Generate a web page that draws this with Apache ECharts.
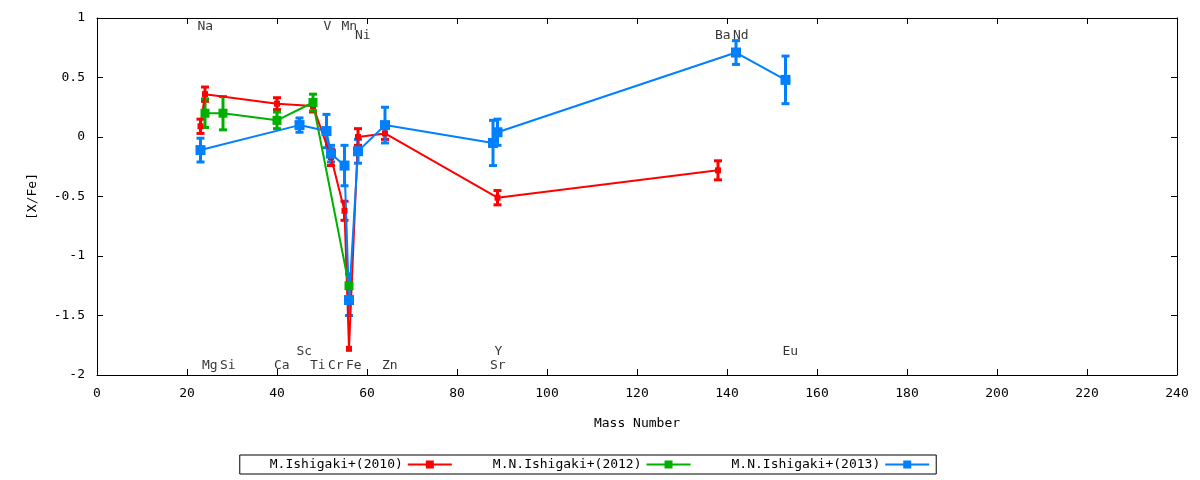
<!DOCTYPE html>
<html lang="en">
<head>
<meta charset="UTF-8">
<title>[X/Fe]</title>
<style>
  * { margin: 0; padding: 0; }
  html, body, #chart { width: 1200px; height: 480px; overflow: hidden; background: #fff; }
</style>
</head>
<body>
<div id="chart"></div>
<script src="https://cdn.jsdelivr.net/npm/echarts@6/dist/echarts.min.js"></script>
<script>
  // M.Ishigaki+(2010)
  let massA = [23, 24, 40, 48, 52, 55, 56, 58, 64, 89, 138];
  let valA  = [0.09, 0.36, 0.28, 0.26, -0.17, -0.62, -1.78, 0.0, 0.03, -0.51, -0.28];
  let errA  = [0.06, 0.06, 0.05, 0.05, 0.07, 0.08, 0.0, 0.07, 0.05, 0.06, 0.08];
  // M.N.Ishigaki+(2012)
  let massB = [24, 28, 40, 48, 56];
  let valB  = [0.2, 0.2, 0.14, 0.29, -1.25];
  let errB  = [0.12, 0.14, 0.07, 0.07, 0.1];
  // M.N.Ishigaki+(2013)
  let massC = [23, 45, 51, 52, 55, 56, 58, 64, 88, 89, 142, 153];
  let valC  = [-0.11, 0.1, 0.05, -0.14, -0.24, -1.37, -0.12, 0.1, -0.05, 0.04, 0.71, 0.48];
  let errC  = [0.1, 0.06, 0.14, 0.07, 0.17, 0.13, 0.1, 0.15, 0.19, 0.11, 0.1, 0.2];

  // element labels: name, mass, y position
  let labNames = ['Na', 'V', 'Mn', 'Ni', 'Ba', 'Nd', 'Mg', 'Si', 'Ca', 'Sc', 'Ti', 'Cr', 'Fe', 'Zn', 'Y', 'Sr', 'Eu'];
  let labMass  = [23, 51, 55, 58, 138, 142, 24, 28, 40, 45, 48, 52, 56, 64, 89, 88, 153];
  let labY     = [0.93, 0.93, 0.93, 0.85, 0.85, 0.85, -1.92, -1.92, -1.92, -1.8, -1.92, -1.92, -1.92, -1.92, -1.8, -1.92, -1.8];

  let font = 'DejaVu Sans Mono';
  let colors = ['#ff0000', '#00b000', '#0080ff'];
  let names = ['M.Ishigaki+(2010)', 'M.N.Ishigaki+(2012)', 'M.N.Ishigaki+(2013)'];

  function pairs(m, v) { return m.map((x, i) => [x, v[i]]); }

  function errSeries(m, v, e, color, name) {
    return {
      name: name + ' err',
      type: 'custom',
      z: 3,
      color: color,
      data: m.map((x, i) => [x, v[i] - e[i], v[i] + e[i]]),
      renderItem: function(params, api) {
        let lo = api.coord([api.value(0), api.value(1)]);
        let hi = api.coord([api.value(0), api.value(2)]);
        if (Math.abs(lo[1] - hi[1]) < 1) return;
        let style = { stroke: color, lineWidth: 3 };
        return {
          type: 'group',
          children: [
            { type: 'line', shape: { x1: lo[0], y1: lo[1], x2: hi[0], y2: hi[1] }, style: style },
            { type: 'line', shape: { x1: lo[0] - 4, y1: lo[1], x2: lo[0] + 4, y2: lo[1] }, style: style },
            { type: 'line', shape: { x1: hi[0] - 4, y1: hi[1], x2: hi[0] + 4, y2: hi[1] }, style: style }
          ]
        };
      }
    };
  }

  function lineSeries(m, v, color, name, size) {
    return {
      name: name,
      type: 'line',
      z: 4,
      color: color,
      data: pairs(m, v),
      symbol: 'rect',
      symbolSize: size,
      itemStyle: { color: color },
      lineStyle: { color: color, width: 2 }
    };
  }

  let axisBase = {
    axisLine: { onZero: false, lineStyle: { color: '#000' } },
    axisTick: { inside: true, length: 6, lineStyle: { color: '#000' } },
    splitLine: { show: false }
  };

  let chart = echarts.init(document.getElementById('chart'));
  chart.setOption({
    animation: false,
    textStyle: { fontFamily: font },
    grid: { left: 97, right: 23, top: 18, bottom: 105 },
    xAxis: [Object.assign({
      type: 'value', min: 0, max: 240, interval: 20,
      name: 'Mass Number', nameLocation: 'middle', nameGap: 42,
      nameTextStyle: { fontFamily: font, fontSize: 13, color: '#000' },
      axisLabel: { fontFamily: font, fontSize: 13, color: '#000', margin: 12 }
    }, axisBase), Object.assign({
      type: 'value', min: 0, max: 240, interval: 20, position: 'top',
      axisLabel: { show: false }
    }, axisBase)],
    yAxis: [Object.assign({
      type: 'value', min: -2, max: 1, interval: 0.5,
      name: '[X/Fe]', nameLocation: 'middle', nameGap: 58,
      nameTextStyle: { fontFamily: font, fontSize: 13, color: '#000' },
      axisLabel: { fontFamily: font, fontSize: 13, color: '#000', margin: 12 }
    }, axisBase), Object.assign({
      type: 'value', min: -2, max: 1, interval: 0.5, position: 'right',
      axisLabel: { show: false }
    }, axisBase)],
    legend: {
      bottom: 6, left: 'center',
      data: names,
      align: 'right',
      itemWidth: 44, itemHeight: 10, itemGap: 40,
      padding: [3, 6, 3, 30],
      borderColor: '#000', borderWidth: 1, borderRadius: 0,
      textStyle: { fontFamily: font, fontSize: 13, color: '#000' }
    },
    series: [
      errSeries(massA, valA, errA, colors[0], names[0]),
      lineSeries(massA, valA, colors[0], names[0], 6),
      errSeries(massB, valB, errB, colors[1], names[1]),
      lineSeries(massB, valB, colors[1], names[1], 9),
      errSeries(massC, valC, errC, colors[2], names[2]),
      lineSeries(massC, valC, colors[2], names[2], 10),
      {
        type: 'scatter',
        symbolSize: 0,
        silent: true,
        data: labMass.map((x, i) => ({ value: [x, labY[i]], name: labNames[i] })),
        label: {
          show: true, position: 'right', distance: -3,
          formatter: '{b}', fontFamily: font, fontSize: 13, color: '#000'
        }
      }
    ]
  });
</script>
</body>
</html>
